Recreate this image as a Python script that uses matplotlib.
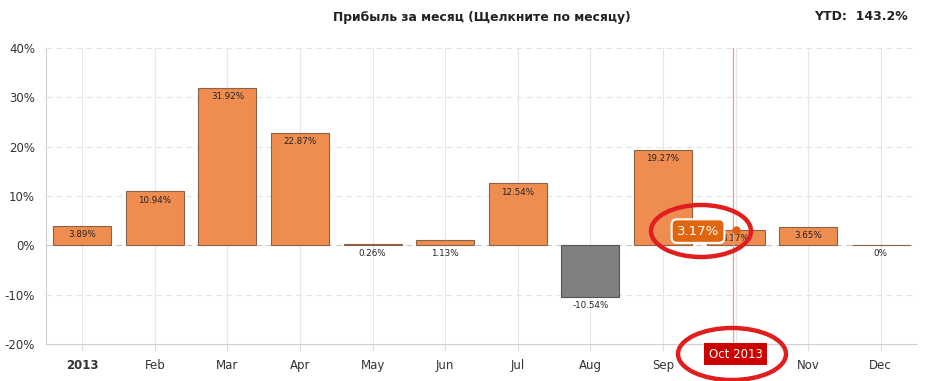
import matplotlib
matplotlib.use("Agg")
import matplotlib.pyplot as plt
from matplotlib.patches import Ellipse
import numpy as np

months = ["2013", "Feb", "Mar", "Apr", "May", "Jun", "Jul", "Aug", "Sep", "Oct", "Nov", "Dec"]
profits = [3.89, 10.94, 31.92, 22.87, 0.26, 1.13, 12.54, -10.54, 19.27, 3.17, 3.65, 0.0]
yticks = [-20, -10, 0, 10, 20, 30, 40]
title = "Прибыль за месяц (Щелкните по месяцу)"
ytd_text = "YTD:  143.2%"
selected = 9
selected_label = "Oct 2013"

W, H = 925, 381
fig = plt.figure(figsize=(W / 100, H / 100), dpi=100)
ax = fig.add_axes([46 / W, 1 - 344 / H, (917 - 46) / W, (344 - 48) / H])

x = np.arange(len(months))
colors = ["#808080" if v < 0 else "#EF8D50" for v in profits]
edges = ["#555555" if v < 0 else "#8a6248" for v in profits]
ax.bar(x, profits, width=0.8, color=colors, edgecolor=edges, linewidth=0.8, zorder=3)

ax.set_xlim(-0.5, len(months) - 0.5)
ax.set_ylim(-20, 40)
ax.set_yticks(yticks)
ax.set_yticklabels([f"{t}%" for t in yticks], fontsize=8.5, color="#333333")
ax.set_xticks(x)
ax.set_xticklabels(months, fontsize=8.5, color="#333333")
ax.get_xticklabels()[0].set_fontweight("bold")
# the selected month's tick label is hidden behind the red label box
ax.get_xticklabels()[selected].set_visible(False)
ax.tick_params(axis="y", length=0, pad=8)
ax.tick_params(axis="x", length=5, color="#dddddd", pad=6)

for t in yticks:
    if t == -20:
        continue
    ax.axhline(t, color="#c8c8c8" if t == 0 else "#e2e2e2", lw=0.8,
               ls=(0, (5, 4)), zorder=1)
for xi in x:
    ax.axvline(xi, color="#e6e6e6", lw=0.8, zorder=1)

for s in ["top", "right"]:
    ax.spines[s].set_visible(False)
ax.spines["left"].set_color("#d0d0d0")
ax.spines["bottom"].set_color("#d0d0d0")

for xi, v in zip(x, profits):
    y = v if (v >= 2 or v < 0) else 0
    ax.annotate(f"{v:g}%" if v == 0 else f"{v:.2f}%", (xi, y), xytext=(0, -3),
                textcoords="offset points", ha="center", va="top",
                fontsize=6.3, color="#222222", zorder=4)

# crosshair
ax.axvline(selected - 0.04, color="#e0a0a0", lw=0.9, zorder=5)

# tooltip
ax.plot([selected], [profits[selected]], "o", color="#E0600F", ms=5, zorder=6)
ax.annotate(f"{profits[selected]:.2f}%", (selected, profits[selected]),
            xytext=(-27, -1), textcoords="offset points", ha="center", va="center",
            fontsize=9.5, color="white", zorder=7,
            bbox=dict(boxstyle="round,pad=0.4", fc="#E0650F", ec="white", lw=1.5))

# selected label box
ax.text(selected, -0.034, selected_label, transform=ax.get_xaxis_transform(),
        ha="center", va="center", fontsize=8.5, color="white", zorder=8,
        bbox=dict(boxstyle="square,pad=0.35", fc="#CC0000", ec="none"),
        clip_on=False)

# titles
fig.text(482 / W, 1 - 17 / H, title, ha="center", va="center", fontsize=8.9,
         fontweight="bold", color="#222222")
fig.text(908 / W, 1 - 17 / H, ytd_text, ha="right", va="center", fontsize=9,
         fontweight="bold", color="#222222")

# red hand-drawn ellipses
for cx, cy, w, h in [(701, 231, 100, 52), (732, 354, 108, 52)]:
    e = Ellipse((cx / W, 1 - cy / H), w / W, h / H, transform=fig.transFigure,
                fill=False, ec="#E01E1E", lw=3.2, zorder=20)
    fig.add_artist(e)

fig.savefig("out.png", dpi=100)
